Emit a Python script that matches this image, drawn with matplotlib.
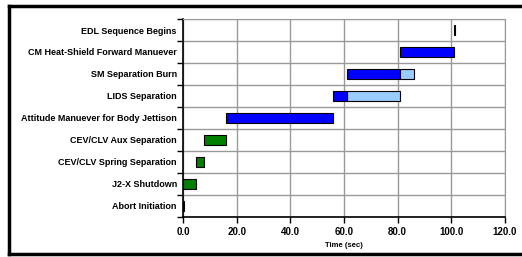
import matplotlib.pyplot as plt
import numpy as np
from matplotlib.lines import Line2D

plt.rcParams['font.family'] = ['Liberation Sans', 'DejaVu Sans']

# events, bottom to top
events = ['Abort Initiation', 'J2-X Shutdown', 'CEV/CLV Spring Separation',
          'CEV/CLV Aux Separation', 'Attitude Manuever for Body Jettison',
          'LIDS Separation', 'SM Separation Burn',
          'CM Heat-Shield Forward Manuever', 'EDL Sequence Begins']
start = [0.0, 0.0, 5.0, 8.0, 16.0, 56.0, 61.0, 81.0, 101.0]
duration = [0.3, 5.0, 3.0, 8.0, 40.0, 5.0, 20.0, 20.0, 0.25]
colors = ['#008000', '#008000', '#008000', '#008000', '#0000FF',
          '#0000FF', '#0000FF', '#0000FF', '#0000FF']
# light blue extension segments
ext_start = [None, None, None, None, None, 61.0, 81.0, None, None]
ext_duration = [None, None, None, None, None, 20.0, 5.0, None, None]

fig = plt.figure(figsize=(5.22, 2.57), dpi=100)
ax = fig.add_axes([0.3506, 0.156, 0.6168, 0.770])

y = np.arange(len(events))
ax.barh(y, duration, left=start, height=0.42, color=colors,
        edgecolor='black', linewidth=0.8, zorder=3)
for i in range(len(events)):
    if ext_start[i] is not None:
        ax.barh(y[i], ext_duration[i], left=ext_start[i], height=0.42,
                color='#99CCFF', edgecolor='black', linewidth=0.8, zorder=3)

ax.set_xlim(0, 120)
ax.set_ylim(-0.5, len(events) - 0.5)
ax.set_xticks(np.arange(0, 121, 20))
ax.set_xticklabels(['%.1f' % v for v in np.arange(0, 121, 20)],
                   fontsize=7, fontweight='bold')
ax.set_yticks(y)
ax.set_yticklabels(events, fontsize=6.5, fontweight='bold')
ax.set_yticks(np.arange(-0.5, len(events), 1), minor=True)
ax.tick_params(axis='y', which='major', length=0, pad=4.5)
ax.tick_params(axis='y', which='minor', length=4, width=1, color='black')
ax.tick_params(axis='x', length=4, width=1, pad=3)
ax.grid(True, axis='x', color='#999999', linewidth=1, zorder=0)
ax.grid(True, axis='y', which='minor', color='#999999', linewidth=1, zorder=0)
ax.set_xlabel('Time (sec)', fontsize=5.5, fontweight='bold', labelpad=4)

for s in ['top', 'right']:
    ax.spines[s].set_color('#999999')
for s in ['left', 'bottom']:
    ax.spines[s].set_linewidth(1.2)

# outer frame (right side runs off the image)
x0, y0, y1 = 8.5 / 522, 3 / 257, 251.5 / 257
fig.add_artist(Line2D([x0, 1.1], [y1, y1], color='black', lw=2.5))
fig.add_artist(Line2D([x0, 1.1], [y0, y0], color='black', lw=2.5))
fig.add_artist(Line2D([x0, x0], [y0, y1], color='black', lw=2.5,
                      solid_capstyle='projecting'))

fig.savefig('out.png', dpi=100)
